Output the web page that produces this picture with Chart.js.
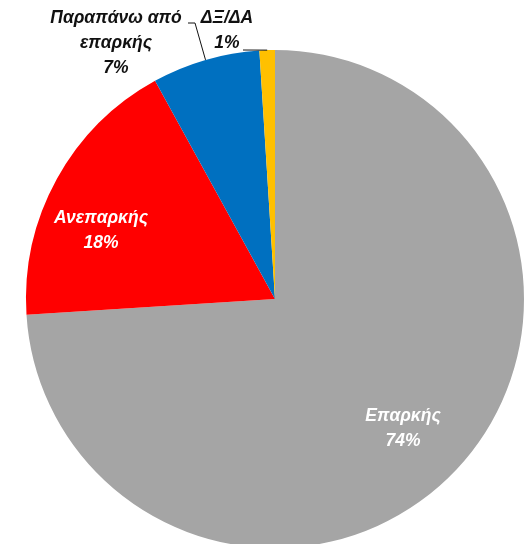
<!DOCTYPE html>
<html lang="el">
<head>
    <meta charset="UTF-8">
    <title>Επάρκεια</title>
    <script src="https://cdn.jsdelivr.net/npm/chart.js"></script>
    <style>
        body {
            margin: 0;
            background: #fff;
        }
        #wrap {
            width: 525px;
            height: 544px;
        }
    </style>
</head>
<body>
    <div id="wrap">
        <canvas id="pieChart" width="525" height="544"></canvas>
    </div>

    <script>
        // Data
        const categories = ['Επαρκής', 'Ανεπαρκής', 'Παραπάνω από επαρκής', 'ΔΞ/ΔΑ'];
        const labelLines = [['Επαρκής'], ['Ανεπαρκής'], ['Παραπάνω από', 'επαρκής'], ['ΔΞ/ΔΑ']];
        const shares = [74, 18, 7, 1];
        const sliceColors = ['#A5A5A5', '#FF0000', '#0070C0', '#FFC000'];

        // Where each label sits, relative to the pie centre (px); leader = start of connector line
        const labelLayout = [
            { x: 128, y: 122, color: '#fff' },
            { x: -174, y: -76, color: '#fff' },
            { x: -159, y: -276, color: '#111', leader: [-87, -276, -80, -276] },
            { x: -48, y: -276, color: '#111', leader: [-32, -249, -32, -249] }
        ];

        const FONT = 'italic bold 17.5px "Liberation Sans", Arial, sans-serif';
        const LINE_H = 25;

        const pieLabels = {
            id: 'pieLabels',
            afterDatasetsDraw(chart) {
                const ctx = chart.ctx;
                const arcs = chart.getDatasetMeta(0).data;
                ctx.save();
                ctx.font = FONT;
                ctx.textAlign = 'center';
                ctx.textBaseline = 'alphabetic';
                arcs.forEach((arc, i) => {
                    const p = arc.getProps(['x', 'y', 'startAngle', 'endAngle', 'outerRadius'], true);
                    const lay = labelLayout[i];
                    const lines = labelLines[i].concat([shares[i] + '%']);
                    if (lay.leader) {
                        const mid = (p.startAngle + p.endAngle) / 2;
                        const ex = p.x + Math.cos(mid) * p.outerRadius;
                        const ey = p.y + Math.sin(mid) * p.outerRadius;
                        ctx.strokeStyle = '#111';
                        ctx.lineWidth = 1;
                        ctx.beginPath();
                        ctx.moveTo(p.x + lay.leader[0], p.y + lay.leader[1]);
                        ctx.lineTo(p.x + lay.leader[2], p.y + lay.leader[3]);
                        ctx.lineTo(ex, ey);
                        ctx.stroke();
                    }
                    ctx.fillStyle = lay.color;
                    lines.forEach((t, k) => {
                        ctx.fillText(t, p.x + lay.x, p.y + lay.y + k * LINE_H);
                    });
                });
                ctx.restore();
            }
        };

        new Chart(document.getElementById('pieChart'), {
            type: 'pie',
            data: {
                labels: categories,
                datasets: [{
                    data: shares,
                    backgroundColor: sliceColors,
                    borderWidth: 0,
                    radius: 249,
                    clip: false
                }]
            },
            options: {
                responsive: false,
                animation: false,
                layout: {
                    padding: { left: 25, right: 0, top: 54, bottom: 0 }
                },
                plugins: {
                    legend: { display: false },
                    tooltip: { enabled: false }
                }
            },
            plugins: [pieLabels]
        });
    </script>
</body>
</html>
